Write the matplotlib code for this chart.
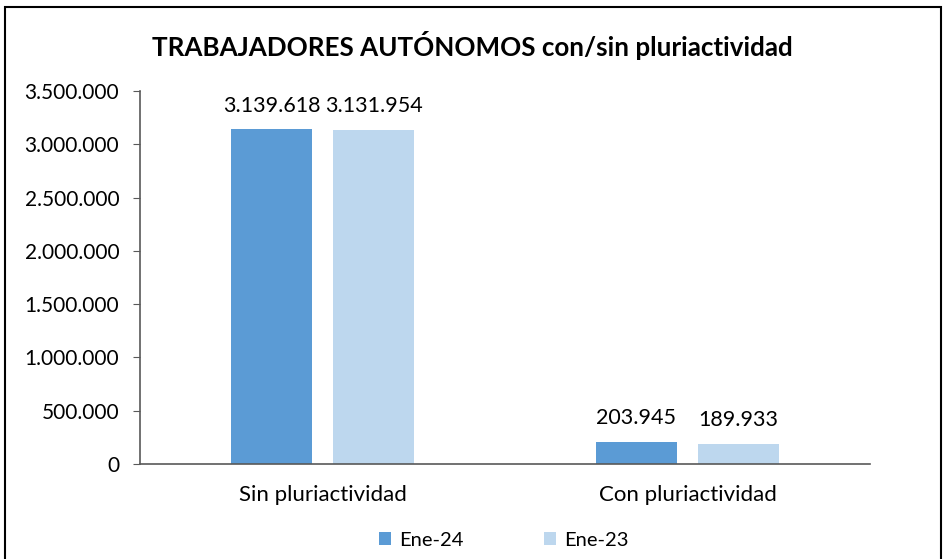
import numpy as np
import matplotlib
matplotlib.use('Agg')
import matplotlib.pyplot as plt
from matplotlib.patches import Rectangle
from matplotlib.ticker import FuncFormatter

plt.rcParams['font.family'] = ['Lato', 'DejaVu Sans']

categories = ['Sin pluriactividad', 'Con pluriactividad']
series = ['Ene-24', 'Ene-23']
ene24 = [3139618, 203945]
ene23 = [3131954, 189933]
colors = ['#5B9BD5', '#BDD7EE']


def miles(v, pos=None):
    return f'{int(round(v)):,}'.replace(',', '.')


fig = plt.figure(figsize=(9.45, 5.59), dpi=100)
ax = fig.add_axes([140 / 945, 1 - 464 / 559, 730 / 945, 373 / 559])

x = np.arange(len(categories)) + 0.5
w = 0.22
for vals, off, c, lab in [(ene24, -0.14, colors[0], series[0]),
                          (ene23, 0.14, colors[1], series[1])]:
    bars = ax.bar(x + off, vals, width=w, color=c, label=lab)
    for b, v in zip(bars, vals):
        ax.annotate(miles(v), (b.get_x() + b.get_width() / 2, v),
                    textcoords='offset points', xytext=(0, 10),
                    ha='center', va='bottom', fontsize=15.5)

ax.set_xlim(0, 2)
ax.set_ylim(0, 3500000)
ax.set_yticks(np.arange(0, 3500001, 500000))
ax.yaxis.set_major_formatter(FuncFormatter(miles))
ax.set_xticks(x)
ax.set_xticklabels(categories)
ax.tick_params(axis='y', labelsize=15, length=5, pad=10, color='#595959')
ax.tick_params(axis='x', labelsize=16, length=0, pad=15)
for s in ['top', 'right']:
    ax.spines[s].set_visible(False)
for s in ['left', 'bottom']:
    ax.spines[s].set_color('#595959')
    ax.spines[s].set_linewidth(1.2)

fig.text(0.5, 1 - 45 / 559, 'TRABAJADORES AUTÓNOMOS con/sin pluriactividad',
         ha='center', va='center', fontsize=18.7, fontweight='bold')

fig.legend(loc='center', bbox_to_anchor=(0.533, 1 - 540 / 559), ncol=2,
           frameon=False, fontsize=14.5, handlelength=0.6, handleheight=0.6,
           columnspacing=4.0, handletextpad=0.4)

fig.patches.append(Rectangle((5 / 945, -0.1), 936 / 945, 1.1 - 7 / 559,
                             transform=fig.transFigure, fill=False,
                             edgecolor='black', lw=1.5))

fig.savefig('out.png')
